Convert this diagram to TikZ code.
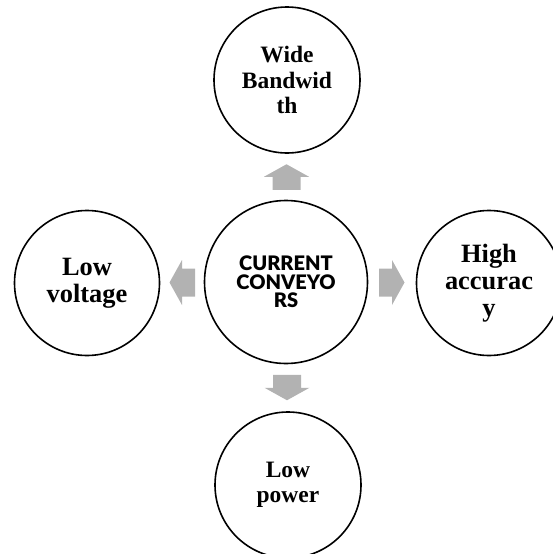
\documentclass[tikz,border=0pt]{standalone}
\usepackage{fontspec}
\setmainfont{Liberation Serif}
\newfontfamily\ccfont{Lato Black}
\usetikzlibrary{calc}
\definecolor{arrowgray}{RGB}{178,178,178}
\begin{document}
\begin{tikzpicture}[x=1pt,y=-1pt,
  circ/.style={draw=black, line width=1.6pt, circle, fill=white, inner sep=0pt, align=center},
  smalltext/.style={font=\fontsize{23.5}{25.3}\selectfont\bfseries},
  bigtext/.style={font=\fontsize{26.4}{27}\selectfont\bfseries},
  centertext/.style={font=\ccfont\fontsize{20}{18.3}\selectfont},
  barrow/.pic={\fill[arrowgray] (-13,-14) -- (0,-14) -- (0,-22.5) -- (12.5,0) -- (0,22.5) -- (0,14) -- (-13,14) -- cycle;}]
\useasboundingbox (0,0) rectangle (552,554);
\node[circ, minimum size=163pt, centertext] (cc) at (286,282) {CURRENT\\CONVEYO\\RS};
\node[circ, minimum size=146pt, smalltext] (wb) at (287,80) {Wide\\Bandwid\\th};
\node[circ, minimum size=145pt, bigtext] (ha) at (489,283) {High\\accurac\\y};
\node[circ, minimum size=145pt, bigtext] (lv) at (87,283) {Low\\voltage};
\node[circ, minimum size=146pt, smalltext] (lp) at (288,485) {Low\\power};
\coordinate (aup) at ($(cc.north)!0.5!(wb.south)$);
\coordinate (adown) at ($(cc.south)!0.5!(lp.north)$);
\coordinate (aleft) at ($(cc.west)!0.5!(lv.east)$);
\coordinate (aright) at ($(cc.east)!0.5!(ha.west)$);
\pic[rotate=90] at (aup) {barrow};
\pic[rotate=-90] at (adown) {barrow};
\pic[rotate=180] at (aleft) {barrow};
\pic at (aright) {barrow};
\end{tikzpicture}
\end{document}
